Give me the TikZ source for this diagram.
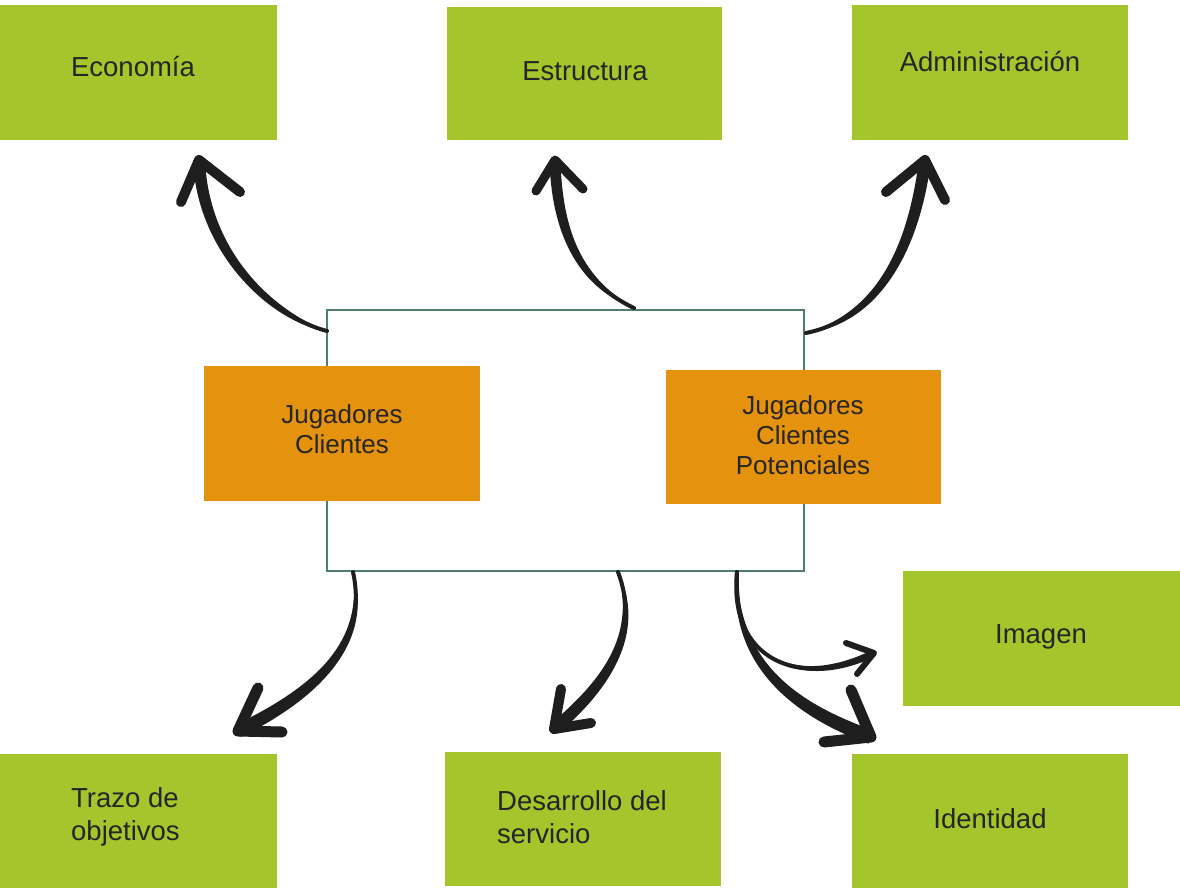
\documentclass[tikz,border=0pt]{standalone}
\usepackage{fontspec}
\setmainfont{Liberation Sans}
\usetikzlibrary{calc}
\definecolor{leaf}{HTML}{A4C52C}
\definecolor{amber}{HTML}{E5920E}
\definecolor{frame}{HTML}{4F7D6E}
\definecolor{ink}{HTML}{1E1E1E}
\definecolor{txt}{HTML}{262626}
% Brush-like arrow: tapered shaft from #1 via #2,#3 to #4 (half width #5 at the end,
% #9 near the first control point), open V head from barb #6 to the tip #4 to barb #7,
% head stroke width #8
\newcommand\brusharrow[9]{%
  \fill[ink] (#1) .. controls ($(#2)!#9!-90:(#1)$) and ($(#3)!#5!90:(#4)$) .. ($(#4)!#5!-90:(#3)$)
    -- ($(#4)!#5!90:(#3)$) .. controls ($(#3)!#5!-90:(#4)$) and ($(#2)!#9!90:(#1)$) .. (#1) -- cycle;
  \draw[ink, line width=4pt, line cap=round] (#1) .. controls (#2) and (#3) .. (#4);
  \draw[ink, line width=#8, line cap=round, line join=round] (#6) -- (#4) -- (#7);
}
\begin{document}
\begin{tikzpicture}[x=1pt, y=-1pt,
  box/.style={anchor=north west, inner sep=0pt, outer sep=0pt, draw=none},
  greenbox/.style={box, fill=leaf},
  orangebox/.style={box, fill=amber},
  lbl/.style={text=txt, font=\fontsize{27.5}{33}\selectfont, inner sep=0pt, align=center},
  lblo/.style={lbl, font=\fontsize{26}{30}\selectfont},
  lbll/.style={lbl, align=left, anchor=west}]
\useasboundingbox[fill=white] (0,0) rectangle (1180,888);

% central frame
\node[box, draw=frame, line width=2pt, fill=white, minimum width=477pt, minimum height=261pt] (ctr) at (327,310) {};

% category boxes
\node[greenbox, minimum width=277pt, minimum height=135pt] (eco) at (0,5) {};
\node[greenbox, minimum width=275pt, minimum height=133pt] (est) at (447,7) {};
\node[greenbox, minimum width=276pt, minimum height=135pt] (adm) at (852,5) {};
\node[greenbox, minimum width=277pt, minimum height=135pt] (img) at (903,571) {};
\node[greenbox, minimum width=277pt, minimum height=134pt] (tra) at (0,754) {};
\node[greenbox, minimum width=276pt, minimum height=134pt] (des) at (445,752) {};
\node[greenbox, minimum width=276pt, minimum height=134pt] (ide) at (852,754) {};
\node[orangebox, minimum width=276pt, minimum height=135pt] (jc) at (204,366) {};
\node[orangebox, minimum width=275pt, minimum height=134pt] (jcp) at (666,370) {};

% labels
\node[lbl] (teco) at (133,67) {Economía};
\node[lbl] (test) at (585,71) {Estructura};
\node[lbl] (tadm) at (990,62) {Administración};
\node[lblo] (tjc) at (342,429) {Jugadores\\Clientes};
\node[lblo] (tjcp) at (803,435) {Jugadores\\Clientes\\Potenciales};
\node[lbl] (timg) at (1041,637) {Imagen};
\node[lbll] (ttra) at (71,817) {Trazo de\\objetivos};
\node[lbll] (tdes) at (497,817) {Desarrollo del\\servicio};
\node[lbl] (tide) at (990,819) {Identidad};

% arrow anchors on the frame and free arrow ends
\coordinate (s1) at ($(ctr.north west)+(0,21)$);
\coordinate (s2) at ($(ctr.north west)+(307,-2)$);
\coordinate (s3) at ($(ctr.north east)+(2,23)$);
\coordinate (s4) at ($(ctr.south west)+(26,1)$);
\coordinate (s5) at ($(ctr.south west)+(291,1)$);
\coordinate (s6) at ($(ctr.south west)+(410,1)$);

\coordinate (t1) at (199,160);
\coordinate (t2) at (555,160);
\coordinate (t3) at (925,160);
\coordinate (t4) at (238,731);
\coordinate (t5) at (554,729);
\coordinate (t6) at (874,653);
\coordinate (t7) at (871,737);

% Economía
\brusharrow{s1}{275,318}{203,255}{t1}{6pt}{181,202}{240,192}{10pt}{6pt}
% Estructura
\brusharrow{s2}{585,285}{557,240}{t2}{5.5pt}{536,191}{583,189}{9pt}{5pt}
% Administración
\brusharrow{s3}{870,320}{912,262}{t3}{6pt}{886,192}{945,200}{10pt}{6pt}
% Trazo de objetivos
\brusharrow{s4}{368,640}{322,690}{t4}{6.5pt}{258,688}{282,732}{11pt}{6pt}
% Desarrollo del servicio
\brusharrow{s5}{640,630}{612,680}{t5}{6pt}{561,689}{591,723}{10pt}{6pt}
% Imagen
\brusharrow{s6}{728,660}{800,690}{t6}{3.5pt}{846,643}{857,674}{6pt}{3.5pt}
% Identidad
\brusharrow{s6}{733,660}{790,708}{t7}{7pt}{851,690}{824,742}{11pt}{6pt}
\end{tikzpicture}
\end{document}
